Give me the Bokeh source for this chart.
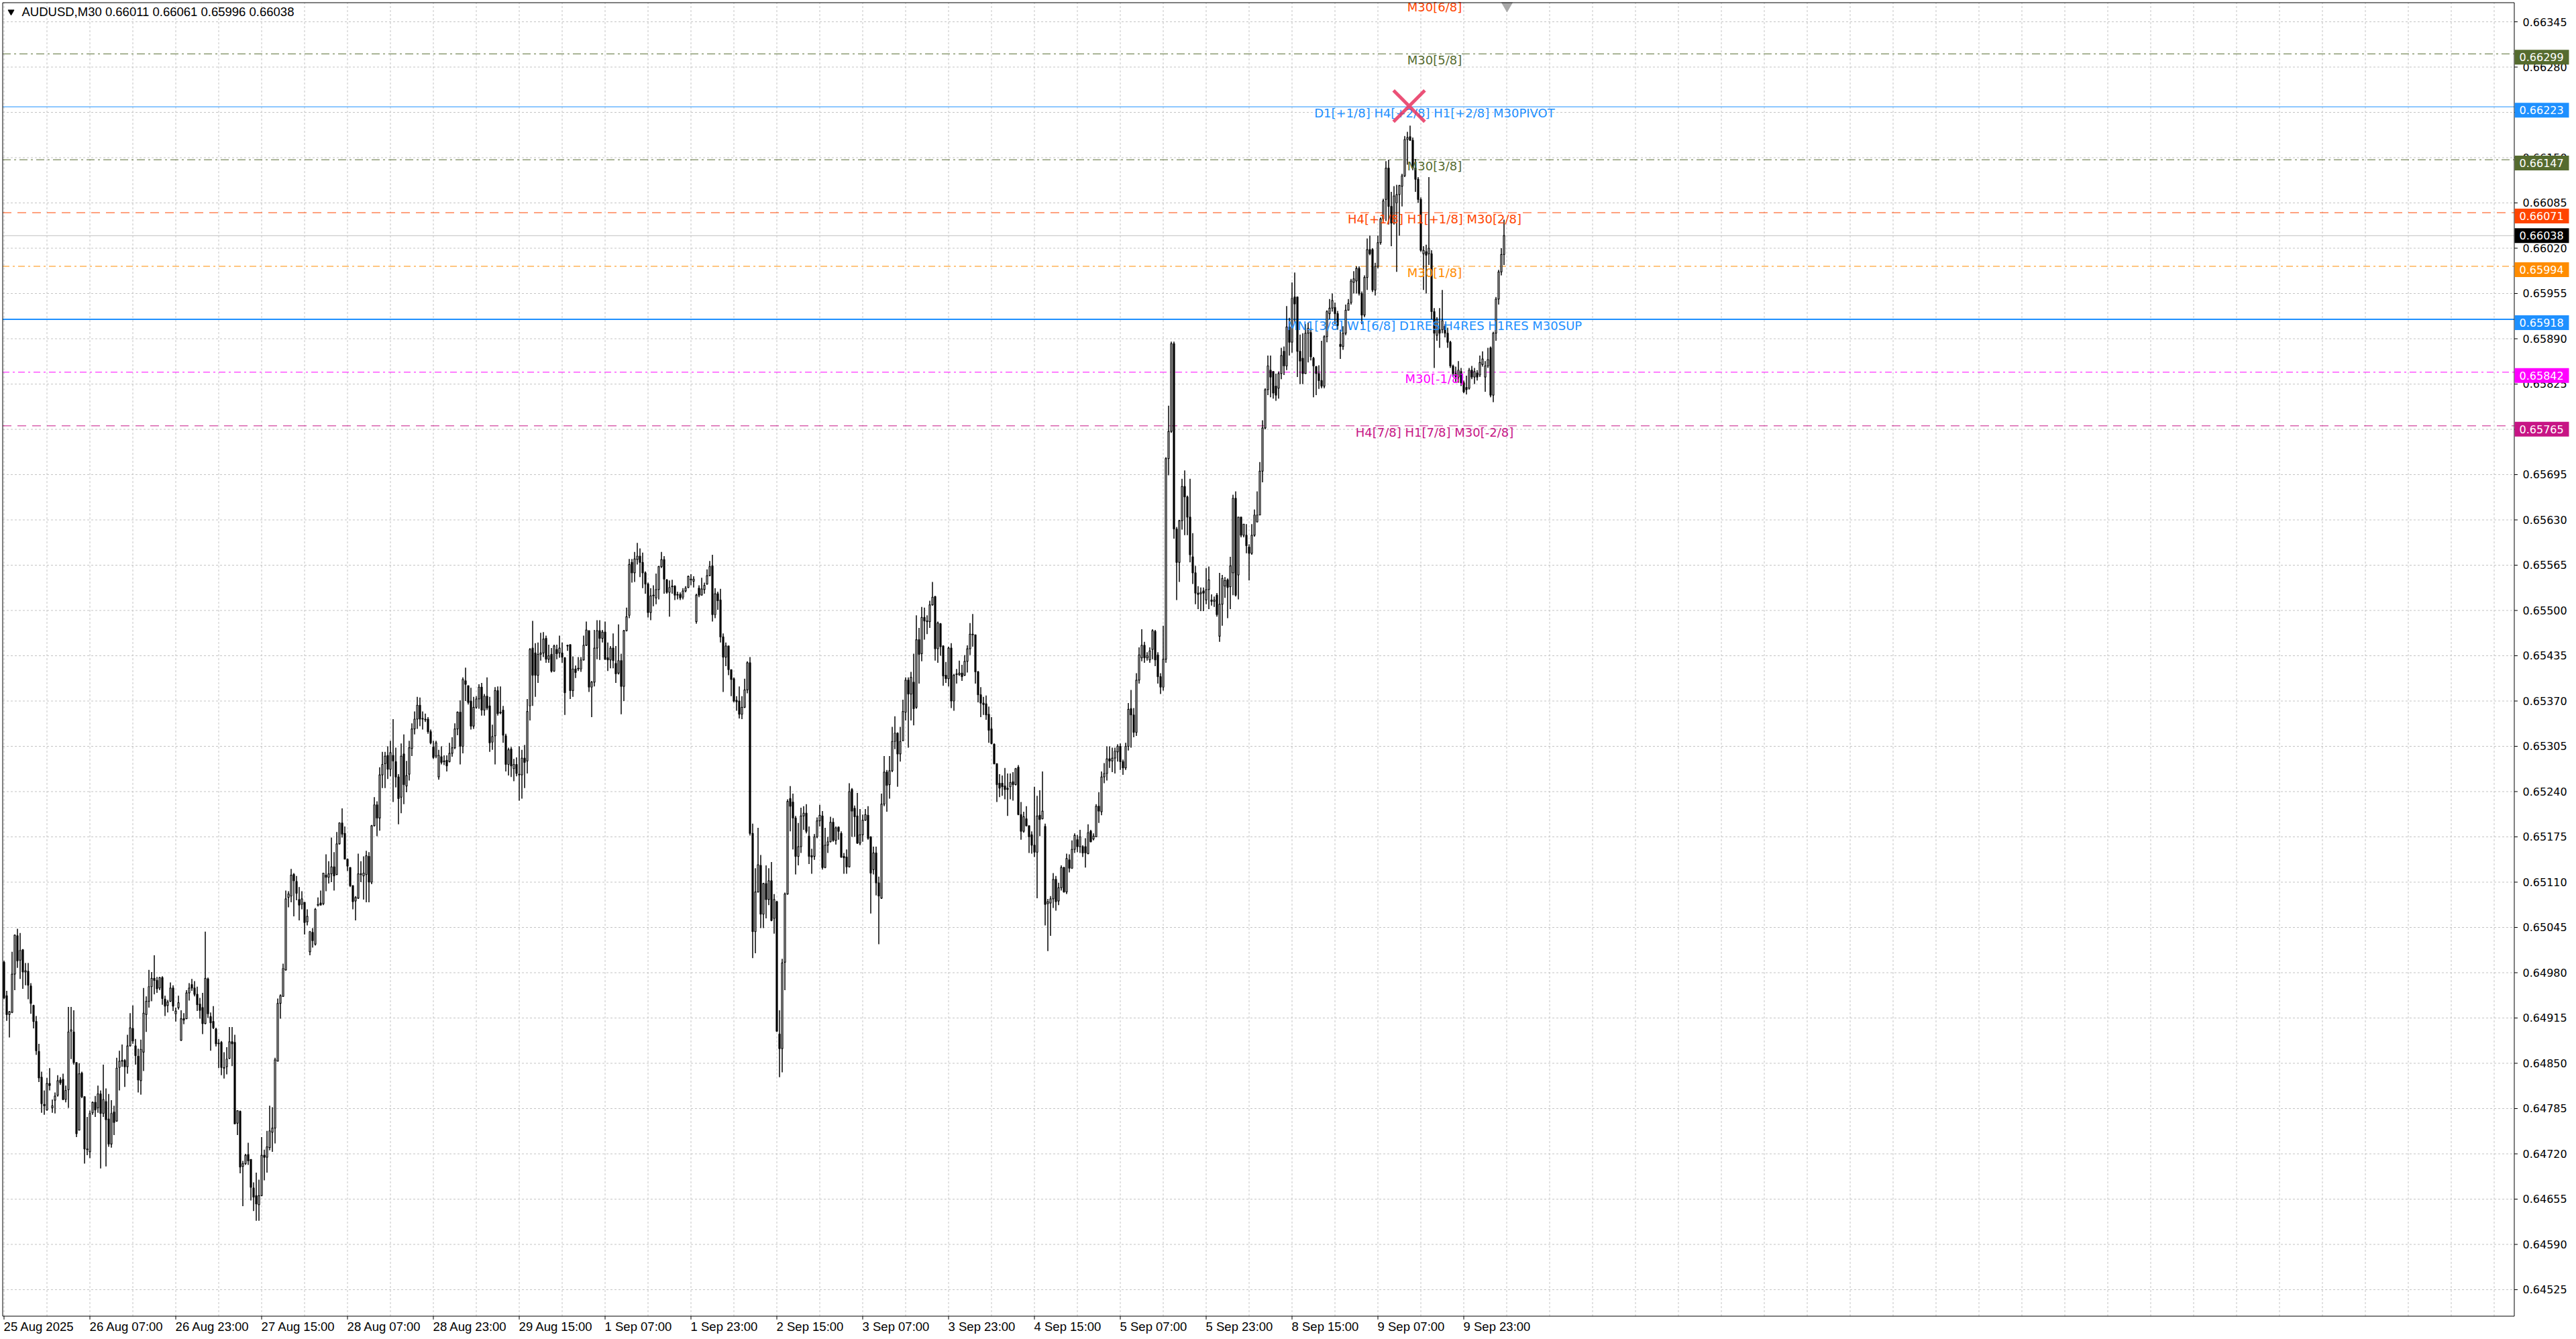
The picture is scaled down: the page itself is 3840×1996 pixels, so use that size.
import numpy as np
from bokeh.plotting import figure
from bokeh.models import ColumnDataSource, Range1d
from bokeh.embed import file_html
from bokeh.resources import INLINE
from bokeh.core.properties import value

FONT = "DejaVu Sans"
FONT2 = "Liberation Sans"

# AUDUSD M30 candles, prices in 1e-5 units
opens = [
64995, 64947, 64920, 64923, 64978, 65033, 64998, 65013, 64981, 64982,
64961, 64933, 64910, 64867, 64830, 64791, 64783, 64821, 64786, 64797,
64804, 64826, 64827, 64798, 64812, 64896, 64895, 64851, 64754, 64836,
64802, 64727, 64723, 64779, 64794, 64786, 64806, 64778, 64795, 64770,
64734, 64780, 64767, 64844, 64854, 64854, 64845, 64875, 64900, 64875,
64860, 64825, 64866, 64920, 64939, 64960, 64972, 64969, 64958, 64973,
64942, 64933, 64939, 64958, 64921, 64930, 64883, 64914, 64914, 64951,
64963, 64958, 64949, 64935, 64930, 64907, 64971, 64917, 64910, 64899,
64879, 64880, 64844, 64845, 64857, 64881, 64880, 64764, 64781, 64702,
64706, 64719, 64712, 64671, 64660, 64647, 64660, 64718, 64715, 64729,
64751, 64757, 64853, 64936, 64946, 64984, 65088, 65090, 65121, 65111,
65085, 65078, 65081, 65053, 65010, 65038, 65021, 65077, 65080, 65079,
65120, 65117, 65122, 65132, 65121, 65165, 65195, 65180, 65143, 65131,
65105, 65083, 65087, 65121, 65119, 65121, 65147, 65110, 65191, 65221,
65202, 65264, 65280, 65292, 65272, 65292, 65283, 65261, 65232, 65294,
65248, 65265, 65302, 65330, 65344, 65364, 65345, 65344, 65344, 65326,
65304, 65291, 65261, 65290, 65284, 65285, 65283, 65295, 65303, 65330,
65354, 65305, 65399, 65392, 65370, 65334, 65361, 65373, 65390, 65357,
65377, 65363, 65311, 65320, 65385, 65354, 65357, 65320, 65279, 65301,
65273, 65279, 65265, 65264, 65288, 65284, 65363, 65446, 65439, 65407,
65437, 65439, 65460, 65430, 65437, 65413, 65444, 65439, 65439, 65432,
65450, 65451, 65385, 65416, 65416, 65416, 65429, 65450, 65471, 65390,
65397, 65446, 65471, 65460, 65469, 65432, 65429, 65446, 65424, 65410,
65428, 65391, 65471, 65493, 65569, 65554, 65573, 65578, 65569, 65554,
65538, 65497, 65521, 65518, 65530, 65563, 65573, 65544, 65526, 65534,
65535, 65522, 65523, 65519, 65528, 65533, 65545, 65542, 65484, 65532,
65522, 65530, 65538, 65550, 65564, 65494, 65524, 65515, 65462, 65433,
65449, 65415, 65402, 65371, 65370, 65351, 65361, 65386, 65425, 65180,
65039, 65096, 65134, 65064, 65108, 65085, 65112, 65058, 65082, 64892,
64871, 64995, 65093, 65230, 65225, 65202, 65147, 65161, 65205, 65209,
65176, 65148, 65147, 65175, 65198, 65205, 65131, 65163, 65168, 65196,
65170, 65189, 65180, 65147, 65146, 65132, 65243, 65216, 65205, 65166,
65178, 65199, 65206, 65175, 65128, 65152, 65109, 65087, 65222, 65268,
65250, 65270, 65312, 65324, 65294, 65313, 65354, 65400, 65380, 65397,
65361, 65458, 65438, 65490, 65485, 65484, 65508, 65520, 65445, 65481,
65449, 65407, 65402, 65446, 65370, 65408, 65408, 65410, 65407, 65427,
65445, 65466, 65465, 65412, 65379, 65367, 65366, 65351, 65330, 65308,
65280, 65252, 65252, 65248, 65245, 65247, 65254, 65250, 65275, 65207,
65183, 65201, 65191, 65178, 65163, 65153, 65206, 65201, 65190, 65079,
65080, 65086, 65114, 65083, 65102, 65131, 65096, 65142, 65130, 65157,
65171, 65161, 65161, 65161, 65151, 65183, 65172, 65175, 65219, 65211,
65261, 65266, 65287, 65284, 65288, 65297, 65305, 65283, 65274, 65305,
65359, 65350, 65325, 65400, 65432, 65450, 65432, 65429, 65444, 65470,
65436, 65405, 65390, 65430, 65718, 65757, 65883, 65617, 65569, 65629,
65678, 65663, 65634, 65577, 65554, 65525, 65524, 65528, 65515, 65530,
65515, 65513, 65522, 65463, 65509, 65535, 65544, 65534, 65554, 65661,
65551, 65634, 65608, 65608, 65591, 65582, 65608, 65627, 65637, 65700,
65762, 65817, 65845, 65843, 65822, 65819, 65840, 65872, 65851, 65907,
65885, 65950, 65950, 65872, 65862, 65840, 65898, 65899, 65862, 65850,
65840, 65830, 65822, 65893, 65926, 65934, 65935, 65926, 65882, 65879,
65898, 65931, 65942, 65971, 65973, 65991, 65955, 65924, 65978, 66018,
66018, 65960, 65994, 66028, 66062, 66090, 66135, 66080, 66056, 66085,
66097, 66109, 66124, 66176, 66180, 66175, 66135, 66119, 66090, 66012,
66015, 66012, 66012, 65929, 65895, 65903, 65903, 65908, 65898, 65885,
65851, 65840, 65835, 65843, 65827, 65820, 65819, 65845, 65835, 65841,
65838, 65853, 65835, 65851, 65877, 65809, 65898, 65947, 65986, 66011,
]
highs = [
64997, 64954, 64925, 65010, 65035, 65043, 65037, 65014, 64994, 64994,
64965, 64934, 64918, 64878, 64838, 64811, 64829, 64843, 64798, 64808,
64833, 64830, 64835, 64818, 64931, 64931, 64926, 64851, 64850, 64838,
64802, 64773, 64782, 64795, 64803, 64818, 64811, 64848, 64814, 64806,
64797, 64789, 64858, 64868, 64877, 64856, 64891, 64922, 64933, 64885,
64871, 64884, 64958, 64946, 64984, 64981, 65005, 64974, 64974, 64975,
64947, 64941, 64966, 64962, 64930, 64947, 64926, 64922, 64955, 64965,
64971, 64968, 64960, 64944, 64951, 65039, 64973, 64923, 64932, 64901,
64885, 64882, 64866, 64873, 64902, 64902, 64891, 64782, 64782, 64710,
64720, 64736, 64712, 64679, 64693, 64683, 64744, 64726, 64753, 64789,
64787, 64858, 64943, 64949, 64993, 65098, 65097, 65129, 65123, 65119,
65103, 65097, 65081, 65071, 65040, 65044, 65073, 65088, 65098, 65123,
65150, 65140, 65174, 65153, 65182, 65196, 65216, 65190, 65144, 65131,
65105, 65090, 65151, 65140, 65147, 65155, 65153, 65192, 65232, 65226,
65275, 65297, 65297, 65305, 65313, 65344, 65303, 65265, 65309, 65322,
65284, 65313, 65338, 65355, 65376, 65375, 65355, 65352, 65347, 65329,
65313, 65313, 65300, 65305, 65292, 65292, 65310, 65318, 65338, 65355,
65371, 65404, 65418, 65392, 65389, 65376, 65377, 65394, 65396, 65380,
65404, 65376, 65336, 65390, 65391, 65391, 65363, 65323, 65303, 65304,
65287, 65289, 65305, 65300, 65307, 65373, 65446, 65485, 65453, 65454,
65468, 65469, 65464, 65451, 65446, 65451, 65451, 65464, 65454, 65433,
65451, 65451, 65434, 65421, 65433, 65433, 65464, 65484, 65471, 65399,
65472, 65486, 65486, 65472, 65484, 65454, 65449, 65467, 65449, 65480,
65438, 65472, 65504, 65574, 65574, 65584, 65597, 65589, 65583, 65556,
65540, 65532, 65536, 65553, 65564, 65584, 65578, 65545, 65543, 65544,
65536, 65527, 65526, 65532, 65535, 65550, 65552, 65549, 65524, 65536,
65547, 65540, 65559, 65571, 65580, 65532, 65527, 65531, 65467, 65454,
65449, 65415, 65404, 65377, 65391, 65377, 65402, 65427, 65433, 65194,
65130, 65188, 65149, 65109, 65134, 65130, 65139, 65093, 65083, 64926,
65000, 65095, 65229, 65248, 65237, 65205, 65195, 65217, 65219, 65222,
65190, 65158, 65179, 65203, 65221, 65212, 65188, 65175, 65204, 65202,
65190, 65190, 65183, 65152, 65157, 65252, 65245, 65220, 65238, 65215,
65207, 65215, 65219, 65176, 65161, 65161, 65118, 65237, 65291, 65271,
65291, 65333, 65348, 65325, 65333, 65372, 65404, 65404, 65412, 65438,
65493, 65475, 65505, 65504, 65493, 65514, 65541, 65521, 65484, 65482,
65450, 65426, 65448, 65453, 65409, 65416, 65428, 65422, 65436, 65450,
65482, 65495, 65465, 65413, 65390, 65376, 65378, 65362, 65347, 65309,
65280, 65265, 65263, 65274, 65266, 65266, 65268, 65274, 65278, 65225,
65211, 65219, 65191, 65183, 65247, 65234, 65242, 65269, 65194, 65086,
65090, 65123, 65119, 65109, 65134, 65132, 65151, 65150, 65170, 65180,
65178, 65185, 65163, 65173, 65193, 65185, 65180, 65222, 65239, 65269,
65281, 65305, 65305, 65303, 65303, 65308, 65309, 65286, 65310, 65367,
65386, 65360, 65410, 65447, 65473, 65455, 65440, 65447, 65473, 65472,
65440, 65410, 65478, 65720, 65794, 65886, 65886, 65620, 65630, 65689,
65701, 65665, 65689, 65611, 65564, 65535, 65533, 65533, 65561, 65563,
65523, 65520, 65525, 65554, 65551, 65548, 65546, 65577, 65666, 65671,
65634, 65634, 65624, 65624, 65595, 65624, 65645, 65671, 65713, 65773,
65819, 65866, 65866, 65843, 65840, 65843, 65877, 65879, 65937, 65920,
65971, 65985, 65950, 65896, 65898, 65911, 65913, 65906, 65864, 65851,
65852, 65887, 65895, 65931, 65947, 65955, 65942, 65930, 65903, 65908,
65939, 65947, 65976, 65987, 65994, 65994, 65958, 65981, 66034, 66038,
66020, 65999, 66038, 66064, 66091, 66145, 66147, 66101, 66109, 66111,
66111, 66127, 66181, 66187, 66196, 66179, 66148, 66122, 66093, 66023,
66025, 66122, 66017, 65934, 65921, 65934, 65960, 65911, 65906, 65887,
65853, 65850, 65858, 65848, 65830, 65837, 65848, 65851, 65848, 65845,
65866, 65872, 65858, 65877, 65879, 65900, 65950, 65989, 66020, 66061,
]
lows = [
64942, 64911, 64887, 64922, 64955, 64987, 64971, 64957, 64962, 64942,
64921, 64900, 64862, 64823, 64779, 64776, 64782, 64811, 64779, 64778,
64802, 64819, 64797, 64794, 64786, 64856, 64848, 64744, 64754, 64800,
64706, 64718, 64714, 64776, 64773, 64779, 64699, 64773, 64702, 64730,
64729, 64747, 64766, 64811, 64845, 64816, 64835, 64874, 64878, 64848,
64808, 64805, 64839, 64895, 64930, 64939, 64949, 64951, 64955, 64934,
64918, 64923, 64938, 64925, 64910, 64927, 64882, 64906, 64914, 64940,
64954, 64946, 64925, 64914, 64892, 64906, 64915, 64868, 64899, 64874,
64843, 64833, 64828, 64834, 64856, 64846, 64763, 64747, 64692, 64645,
64704, 64704, 64653, 64638, 64624, 64624, 64659, 64682, 64693, 64725,
64723, 64735, 64853, 64914, 64946, 64983, 65074, 65081, 65061, 65084,
65055, 65071, 65035, 65048, 65005, 65016, 65019, 65075, 65077, 65077,
65097, 65108, 65110, 65098, 65120, 65164, 65174, 65143, 65126, 65103,
65071, 65055, 65086, 65110, 65085, 65081, 65081, 65107, 65190, 65176,
65184, 65245, 65245, 65258, 65262, 65225, 65246, 65193, 65209, 65222,
65239, 65256, 65291, 65322, 65330, 65334, 65329, 65340, 65323, 65308,
65287, 65288, 65257, 65279, 65278, 65269, 65282, 65290, 65301, 65321,
65279, 65295, 65370, 65365, 65329, 65330, 65359, 65359, 65349, 65349,
65357, 65297, 65300, 65279, 65349, 65351, 65310, 65269, 65263, 65261,
65255, 65262, 65227, 65230, 65245, 65266, 65342, 65363, 65376, 65396,
65428, 65433, 65425, 65425, 65411, 65412, 65430, 65432, 65425, 65350,
65442, 65373, 65376, 65403, 65413, 65412, 65428, 65449, 65383, 65347,
65391, 65430, 65429, 65454, 65429, 65413, 65417, 65417, 65396, 65408,
65351, 65370, 65470, 65489, 65540, 65541, 65566, 65548, 65532, 65524,
65490, 65486, 65506, 65509, 65516, 65561, 65524, 65524, 65491, 65524,
65515, 65516, 65515, 65516, 65526, 65532, 65536, 65533, 65481, 65519,
65522, 65524, 65537, 65549, 65484, 65489, 65501, 65454, 65383, 65420,
65407, 65377, 65368, 65356, 65345, 65344, 65360, 65381, 65177, 65001,
65008, 65095, 65044, 65044, 65058, 65077, 65054, 65036, 64895, 64830,
64837, 64955, 65092, 65183, 65157, 65121, 65134, 65152, 65185, 65180,
65136, 65122, 65142, 65173, 65190, 65128, 65130, 65152, 65167, 65168,
65164, 65171, 65145, 65122, 65122, 65131, 65175, 65175, 65165, 65163,
65168, 65198, 65171, 65065, 65121, 65091, 65021, 65086, 65219, 65211,
65230, 65268, 65301, 65247, 65283, 65313, 65342, 65303, 65342, 65335,
65359, 65395, 65427, 65458, 65466, 65475, 65507, 65428, 65425, 65435,
65392, 65396, 65391, 65360, 65356, 65395, 65406, 65399, 65406, 65411,
65436, 65448, 65395, 65368, 65347, 65350, 65343, 65310, 65308, 65279,
65225, 65232, 65234, 65229, 65205, 65229, 65227, 65249, 65206, 65171,
65181, 65190, 65152, 65151, 65146, 65087, 65176, 65200, 65048, 65011,
65033, 65073, 65069, 65077, 65098, 65095, 65093, 65124, 65129, 65152,
65153, 65152, 65146, 65131, 65150, 65167, 65170, 65175, 65195, 65206,
65252, 65256, 65274, 65268, 65266, 65283, 65271, 65264, 65271, 65299,
65303, 65318, 65320, 65395, 65427, 65425, 65428, 65425, 65430, 65420,
65395, 65380, 65385, 65425, 65694, 65755, 65603, 65515, 65541, 65616,
65608, 65608, 65569, 65538, 65509, 65502, 65499, 65499, 65509, 65502,
65507, 65505, 65491, 65455, 65478, 65518, 65489, 65502, 65522, 65520,
65516, 65605, 65605, 65582, 65543, 65580, 65606, 65627, 65637, 65684,
65760, 65809, 65806, 65804, 65801, 65804, 65832, 65838, 65845, 65866,
65870, 65913, 65835, 65825, 65825, 65840, 65856, 65859, 65806, 65809,
65818, 65819, 65819, 65885, 65918, 65929, 65911, 65903, 65861, 65874,
65895, 65931, 65939, 65955, 65955, 65952, 65911, 65921, 65960, 66010,
65957, 65952, 65991, 66025, 66059, 66059, 66054, 66023, 66054, 65986,
66038, 66080, 66122, 66140, 66174, 66132, 66101, 66085, 66015, 65960,
65955, 65996, 65918, 65848, 65887, 65877, 65898, 65892, 65877, 65848,
65835, 65828, 65827, 65822, 65812, 65810, 65817, 65832, 65825, 65830,
65835, 65850, 65814, 65848, 65806, 65799, 65887, 65939, 65981, 65996,
]
closes = [
64944, 64920, 64924, 64978, 65034, 64997, 65012, 64981, 64983, 64962,
64936, 64910, 64868, 64829, 64792, 64789, 64821, 64818, 64789, 64803,
64825, 64822, 64798, 64811, 64895, 64898, 64851, 64749, 64835, 64802,
64727, 64726, 64778, 64794, 64783, 64806, 64778, 64798, 64769, 64734,
64778, 64765, 64843, 64853, 64853, 64845, 64875, 64901, 64882, 64861,
64826, 64870, 64922, 64939, 64960, 64972, 64969, 64957, 64973, 64943,
64932, 64938, 64958, 64932, 64925, 64937, 64914, 64912, 64951, 64958,
64958, 64949, 64934, 64926, 64907, 64972, 64921, 64908, 64901, 64878,
64878, 64844, 64843, 64856, 64881, 64878, 64763, 64782, 64701, 64706,
64718, 64710, 64672, 64658, 64648, 64660, 64718, 64715, 64730, 64753,
64757, 64855, 64936, 64947, 64986, 65086, 65093, 65120, 65112, 65094,
65077, 65086, 65052, 65061, 65039, 65026, 65071, 65078, 65077, 65123,
65117, 65122, 65132, 65119, 65165, 65195, 65179, 65143, 65133, 65105,
65082, 65088, 65122, 65122, 65123, 65148, 65110, 65191, 65221, 65202,
65264, 65279, 65291, 65272, 65296, 65284, 65261, 65230, 65291, 65250,
65263, 65303, 65330, 65344, 65364, 65344, 65344, 65343, 65326, 65310,
65289, 65310, 65292, 65282, 65283, 65277, 65295, 65303, 65330, 65354,
65305, 65401, 65394, 65368, 65334, 65361, 65373, 65390, 65357, 65377,
65360, 65310, 65319, 65385, 65352, 65353, 65321, 65279, 65300, 65277,
65279, 65266, 65264, 65288, 65282, 65355, 65444, 65407, 65407, 65437,
65439, 65459, 65430, 65435, 65413, 65449, 65438, 65446, 65433, 65382,
65449, 65385, 65416, 65411, 65417, 65429, 65450, 65472, 65390, 65397,
65446, 65471, 65460, 65469, 65430, 65429, 65446, 65428, 65409, 65428,
65391, 65471, 65491, 65566, 65554, 65574, 65578, 65569, 65554, 65538,
65497, 65521, 65522, 65530, 65563, 65573, 65545, 65526, 65533, 65535,
65522, 65523, 65518, 65528, 65532, 65549, 65544, 65545, 65522, 65522,
65531, 65536, 65550, 65563, 65494, 65524, 65514, 65462, 65433, 65449,
65415, 65401, 65370, 65369, 65351, 65361, 65386, 65425, 65180, 65039,
65096, 65135, 65064, 65108, 65085, 65112, 65055, 65085, 64896, 64871,
64994, 65093, 65226, 65219, 65202, 65147, 65161, 65205, 65209, 65183,
65147, 65146, 65175, 65198, 65206, 65131, 65163, 65168, 65196, 65170,
65188, 65183, 65146, 65145, 65132, 65240, 65212, 65204, 65166, 65178,
65199, 65207, 65173, 65123, 65152, 65109, 65090, 65222, 65268, 65249,
65270, 65312, 65324, 65294, 65312, 65355, 65400, 65380, 65404, 65359,
65458, 65437, 65490, 65485, 65484, 65508, 65519, 65445, 65482, 65448,
65406, 65402, 65446, 65370, 65407, 65409, 65410, 65405, 65427, 65445,
65466, 65465, 65412, 65379, 65367, 65365, 65350, 65328, 65309, 65280,
65250, 65245, 65247, 65243, 65243, 65253, 65250, 65273, 65207, 65183,
65204, 65191, 65175, 65163, 65153, 65205, 65200, 65212, 65078, 65082,
65086, 65114, 65082, 65102, 65131, 65096, 65144, 65130, 65157, 65177,
65161, 65175, 65152, 65152, 65181, 65168, 65176, 65219, 65212, 65261,
65266, 65287, 65284, 65288, 65298, 65305, 65283, 65274, 65305, 65358,
65350, 65325, 65400, 65436, 65450, 65432, 65435, 65442, 65471, 65429,
65405, 65390, 65430, 65718, 65757, 65883, 65617, 65569, 65629, 65678,
65663, 65634, 65580, 65554, 65525, 65523, 65526, 65525, 65530, 65544,
65513, 65515, 65494, 65509, 65546, 65543, 65533, 65564, 65661, 65522,
65634, 65608, 65624, 65593, 65582, 65608, 65637, 65637, 65700, 65762,
65817, 65851, 65835, 65812, 65809, 65840, 65866, 65851, 65907, 65885,
65948, 65940, 65872, 65858, 65840, 65898, 65905, 65864, 65851, 65840,
65830, 65822, 65893, 65929, 65934, 65945, 65926, 65909, 65879, 65898,
65931, 65941, 65973, 65976, 65991, 65955, 65924, 65978, 66018, 66012,
65960, 65994, 66028, 66062, 66088, 66135, 66080, 66056, 66095, 66097,
66110, 66124, 66176, 66179, 66175, 66135, 66119, 66090, 66017, 66017,
66010, 66020, 65929, 65898, 65918, 65898, 65916, 65898, 65885, 65851,
65840, 65836, 65845, 65827, 65814, 65817, 65845, 65835, 65843, 65835,
65856, 65861, 65851, 65860, 65809, 65898, 65947, 65986, 66011, 66038,
]

price_ticks = [0.64525, 0.64590, 0.64655, 0.64720, 0.64785, 0.64850, 0.64915, 0.64980,
               0.65045, 0.65110, 0.65175, 0.65240, 0.65305, 0.65370, 0.65435, 0.65500,
               0.65565, 0.65630, 0.65695, 0.65760, 0.65825, 0.65890, 0.65955, 0.66020,
               0.66085, 0.66150, 0.66215, 0.66280, 0.66345]
time_label_bars = [0, 32, 64, 96, 128, 160, 192, 224, 256, 288, 320, 352, 384, 416, 448, 480, 512, 544]
time_labels = ["25 Aug 2025", "26 Aug 07:00", "26 Aug 23:00", "27 Aug 15:00", "28 Aug 07:00",
               "28 Aug 23:00", "29 Aug 15:00", "1 Sep 07:00", "1 Sep 23:00", "2 Sep 15:00",
               "3 Sep 07:00", "3 Sep 23:00", "4 Sep 15:00", "5 Sep 07:00", "5 Sep 23:00",
               "8 Sep 15:00", "9 Sep 07:00", "9 Sep 23:00"]
grid_bars = list(range(0, 929, 16))

levels = [0.66375, 0.66299, 0.66223, 0.66147, 0.66071, 0.65994, 0.65918, 0.65842, 0.65765]
level_names = ["M30[6/8]", "M30[5/8]", "D1[+1/8] H4[+2/8] H1[+2/8] M30PIVOT", "M30[3/8]",
               "H4[+1/8] H1[+1/8] M30[2/8]", "M30[1/8]",
               "MN1[3/8] W1[6/8] D1RES H4RES H1RES M30SUP", "M30[-1/8]",
               "H4[7/8] H1[7/8] M30[-2/8]"]
level_colors = ["#FF4500", "#556B2F", "#1E90FF", "#556B2F", "#FF4500", "#FF8C00",
                "#1E90FF", "#FF00FF", "#C71585"]
level_dashes = ["12 5 3 5", "12 5 3 5", "solid", "12 5 3 5", "13 9", "10 5 3 5",
                "solid", "10 5 3 5", "13 9"]
level_widths = [1, 1, 1, 1, 1, 1, 2, 1, 1]

signal_bar = [523.65]
signal_price = [0.66224]

# ---------------------------------------------------------------- scales
W, H = 3836, 1992
PX_PER_BAR = 4.0
PX_PER_PRICE = 103846.0


def bx(px):      # page x pixel -> bar coordinate
    return (px - 5.5) / PX_PER_BAR


def pr(py):      # page y pixel -> price coordinate
    return 0.66345 - (py - 32.0) / PX_PER_PRICE


o = np.array(opens) / 1e5
h = np.array(highs) / 1e5
l = np.array(lows) / 1e5
c = np.array(closes) / 1e5
h = np.maximum(h, np.maximum(o, c))
l = np.minimum(l, np.minimum(o, c))
x = np.arange(len(o))
up = c >= o

CL, CR = bx(3.5), bx(3747.5)
CT, CB = pr(3.5), pr(1961.5)

p = figure(width=W, height=H, x_range=Range1d(bx(0), bx(W)), y_range=Range1d(pr(H), pr(0)),
           output_backend="svg", toolbar_location=None, x_axis_location=None,
           y_axis_location=None, min_border=0, min_border_left=0, min_border_right=0,
           min_border_top=0, min_border_bottom=0, background_fill_color="white",
           border_fill_color="white", outline_line_color=None)
p.xgrid.visible = False
p.ygrid.visible = False

# grid
p.segment(x0=grid_bars, x1=grid_bars, y0=[CB] * len(grid_bars), y1=[CT] * len(grid_bars),
          line_color="#C4C4C4", line_dash="3 3", line_width=1)
p.segment(x0=[CL] * len(price_ticks), x1=[CR] * len(price_ticks), y0=price_ticks, y1=price_ticks,
          line_color="#C4C4C4", line_dash="3 3", line_width=1)

# level lines (only those inside the chart) and bid line
for lv, col, dash, w in zip(levels, level_colors, level_dashes, level_widths):
    if CB <= lv <= CT:
        p.segment(x0=[CL], x1=[CR], y0=[lv], y1=[lv], line_color=col, line_dash=dash, line_width=w)
p.segment(x0=[CL], x1=[CR], y0=[c[-1]], y1=[c[-1]], line_color="#C0C0C0", line_width=1)

# candles
src = ColumnDataSource(dict(x=x, h=h, l=l, top=np.maximum(o, c), bot=np.minimum(o, c),
                            fill=np.where(up, "white", "black")))
p.segment(x0="x", y0="l", x1="x", y1="h", source=src, line_color="black", line_width=1.5)
p.vbar(x="x", width=0.5, top="top", bottom="bot", source=src, fill_color="fill",
       line_color="black", line_width=1.2)

# level labels
lsrc = ColumnDataSource(dict(x=[bx(2138)] * len(levels), y=levels, text=level_names, color=level_colors))
p.text(x="x", y="y", text="text", text_color="color", source=lsrc, text_align="center",
       text_baseline="top", y_offset=-1, text_font=value(FONT), text_font_size="18px")

# signal cross
p.scatter(x=signal_bar, y=signal_price, marker="x", size=66, line_color="#E8335F",
          line_width=5, line_alpha=0.85)

# chart shift marker
p.scatter(x=[bx(2246)], y=[pr(8)], marker="inverted_triangle", size=16, fill_color="#A8A8A8",
          line_color="#A8A8A8")

# chart frame / axis lines
p.segment(x0=[CL, CL, CL, CR], x1=[CR, CL, CR, CR], y0=[CT, CB, CB, CB], y1=[CT, CT, CB, CT],
          line_color="black", line_width=1)

# right price scale
p.segment(x0=[CR] * len(price_ticks), x1=[bx(3752.5)] * len(price_ticks), y0=price_ticks,
          y1=price_ticks, line_color="black", line_width=1)
p.text(x=[bx(3760)] * len(price_ticks), y=price_ticks, text=["%.5f" % t for t in price_ticks],
       text_align="left", text_baseline="middle", text_font=value(FONT), text_font_size="16px",
       text_color="black")

# bottom time scale
p.segment(x0=time_label_bars, x1=time_label_bars, y0=[CB] * len(time_label_bars),
          y1=[pr(1966.5)] * len(time_label_bars), line_color="black", line_width=1)
p.text(x=[b - 0.1 for b in time_label_bars], y=[pr(1966)] * len(time_label_bars), text=time_labels,
       text_align="left", text_baseline="top", text_font=value(FONT2), text_font_size="18.5px",
       text_color="black")

# price tags on the scale
tag_prices = levels[1:5] + [float(c[-1])] + levels[5:]
tag_colors = level_colors[1:5] + ["#000000"] + level_colors[5:]
tag_shift = [5, 5, 5, 5, 0, 5, 5, 5, 5]
tag_y = [pp - s / PX_PER_PRICE for pp, s in zip(tag_prices, tag_shift)]
p.rect(x=[bx(3788.5)] * len(tag_y), y=tag_y, width=81 / PX_PER_BAR, height=22 / PX_PER_PRICE,
       fill_color=tag_colors, line_color=None)
p.text(x=[bx(3755)] * len(tag_y), y=tag_y, text=["%.5f" % t for t in tag_prices],
       text_align="left", text_baseline="middle", text_font=value(FONT), text_font_size="16px",
       text_color="white")

# title
title = "AUDUSD,M30  %.5f %.5f %.5f %.5f" % (o[-1], h[-1], l[-1], c[-1])
p.text(x=[bx(32)], y=[pr(17)], text=[title], text_align="left", text_baseline="middle",
       text_font=value(FONT2), text_font_size="18.5px", text_color="black")
p.scatter(x=[bx(16)], y=[pr(17)], marker="inverted_triangle", size=9, fill_color="black",
          line_color="black")

open("out.html", "w").write(file_html(p, INLINE))
